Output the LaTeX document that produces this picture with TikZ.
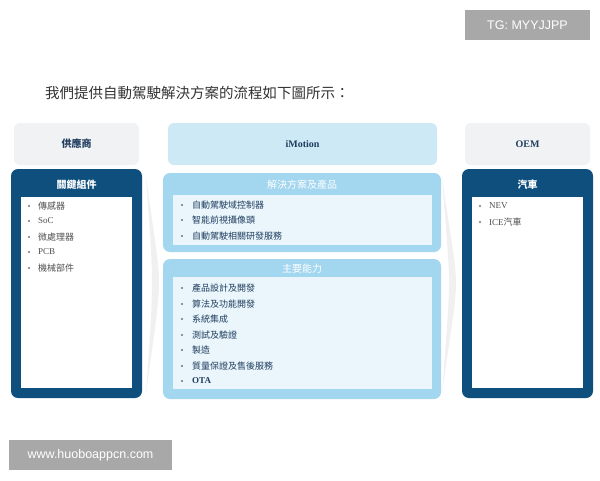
\documentclass[tikz,border=0pt]{standalone}
\usepackage{fontspec}
\setmainfont{Liberation Serif}
\setsansfont{Liberation Sans}
\newfontfamily\cjk{Noto Sans CJK TC}
\definecolor{darkblue}{HTML}{0E4F7D}
\definecolor{midblue}{HTML}{A3D6EF}
\definecolor{paleblue}{HTML}{EAF6FC}
\definecolor{headblue}{HTML}{CEE9F6}
\definecolor{headgray}{HTML}{F0F2F4}
\definecolor{navytext}{HTML}{1F3D5E}
\definecolor{itemgray}{HTML}{505050}
\definecolor{wmgray}{HTML}{A8A8A8}
\begin{document}
\begin{tikzpicture}[x=1pt,y=-1pt,
  boxtitle/.style={text=white,font=\cjk\fontsize{10}{12}\selectfont\bfseries,anchor=center},
  headtxt/.style={text=navytext,font=\fontsize{10}{12}\selectfont\bfseries,anchor=center},
  sideitem/.style={anchor=west,text=itemgray,font=\fontsize{9}{10}\selectfont,inner sep=0pt},
  miditem/.style={anchor=west,text=navytext,font=\cjk\fontsize{9}{10}\selectfont,inner sep=0pt},
  bul/.style={circle,fill=itemgray!80,inner sep=0pt,minimum size=2.2pt},
  chev/.style={fill=black!6,draw=none},
  wm/.style={fill=wmgray,text=white,font=\sffamily\fontsize{12.5}{14}\selectfont,inner sep=0pt,minimum height=30pt}
]
\useasboundingbox (0,0) rectangle (600,480);
\fill[white] (0,0) rectangle (600,480);

% watermarks
\node[wm,minimum width=125pt] (tg) at (527.5,25) {TG: MYYJJPP};
\node[wm,minimum width=163pt] (www) at (90.5,455) {www.huoboappcn.com};

% title
\node[anchor=west,inner sep=0pt,text=black!80,font=\cjk\fontsize{14.5}{16}\selectfont] (title) at (45,93) {我們提供自動駕駛解決方案的流程如下圖所示：};

% chevrons
\fill[chev] (146,177) .. controls (153,230) and (159,260) .. (159,283) .. controls (159,306) and (153,340) .. (146,394) .. controls (150,340) and (152,306) .. (152,283) .. controls (152,260) and (150,230) .. (146,177) -- cycle;
\fill[chev] (442,177) .. controls (449,230) and (456,260) .. (456,283) .. controls (456,306) and (449,340) .. (442,394) .. controls (446,340) and (449,306) .. (449,283) .. controls (449,260) and (446,230) .. (442,177) -- cycle;

% headers
\fill[headgray,rounded corners=6pt] (14,123) rectangle (139,165);
\node[headtxt,font=\cjk\fontsize{10}{12}\selectfont\bfseries] (sup) at (76.5,144) {供應商};
\fill[headblue,rounded corners=6pt] (168,123) rectangle (437,165);
\node[headtxt] (imo) at (302.5,144) {iMotion};
\fill[headgray,rounded corners=6pt] (465,123) rectangle (590,165);
\node[headtxt] (oem) at (527.5,144) {OEM};

% left column
\fill[darkblue,rounded corners=7pt] (11,169) rectangle (142,398);
\fill[white] (21,197) rectangle (132,388);
\node[boxtitle] (lt) at (76.5,185) {關鍵組件};
\foreach \t/\y [count=\i] in {{\cjk 傳感器}/206,SoC/221,{\cjk 微處理器}/237,PCB/252,{\cjk 機械部件}/268}{
  \node[bul] (lb\i) at (29,\y) {};
  \node[sideitem] (li\i) at (38,\y) {\t};
}

% right column
\fill[darkblue,rounded corners=7pt] (462,169) rectangle (593,398);
\fill[white] (472,197) rectangle (583,388);
\node[boxtitle] (rt) at (527.5,185) {汽車};
\node[bul] (rb1) at (480,206) {};
\node[sideitem] (ri1) at (489,206) {NEV};
\node[bul] (rb2) at (480,222) {};
\node[sideitem] (ri2) at (489,222) {ICE{\cjk 汽車}};

% middle box 1
\fill[midblue,rounded corners=7pt] (163,173) rectangle (441,252);
\fill[paleblue] (173,195) rectangle (432,245);
\node[boxtitle,font=\cjk\fontsize{10}{12}\selectfont] (m1t) at (302,185) {解決方案及產品};
\foreach \t/\y [count=\i] in {自動駕駛域控制器/205,智能前視攝像頭/220,自動駕駛相關研發服務/236}{
  \node[bul] (ab\i) at (182,\y) {};
  \node[miditem] (ai\i) at (192,\y) {\t};
}

% middle box 2
\fill[midblue,rounded corners=7pt] (163,259) rectangle (441,399);
\fill[paleblue] (173,277) rectangle (432,389);
\node[boxtitle,font=\cjk\fontsize{10}{12}\selectfont] (m2t) at (302,269) {主要能力};
\foreach \t/\y [count=\i] in {產品設計及開發/288,算法及功能開發/304,系統集成/319,測試及驗證/335,製造/350,質量保證及售後服務/366}{
  \node[bul] (bb\i) at (182,\y) {};
  \node[miditem] (bi\i) at (192,\y) {\t};
}
\node[bul] (bb7) at (182,381) {};
\node[miditem,font=\fontsize{9}{10}\selectfont\bfseries] (bi7) at (192,381) {OTA};
\end{tikzpicture}
\end{document}
